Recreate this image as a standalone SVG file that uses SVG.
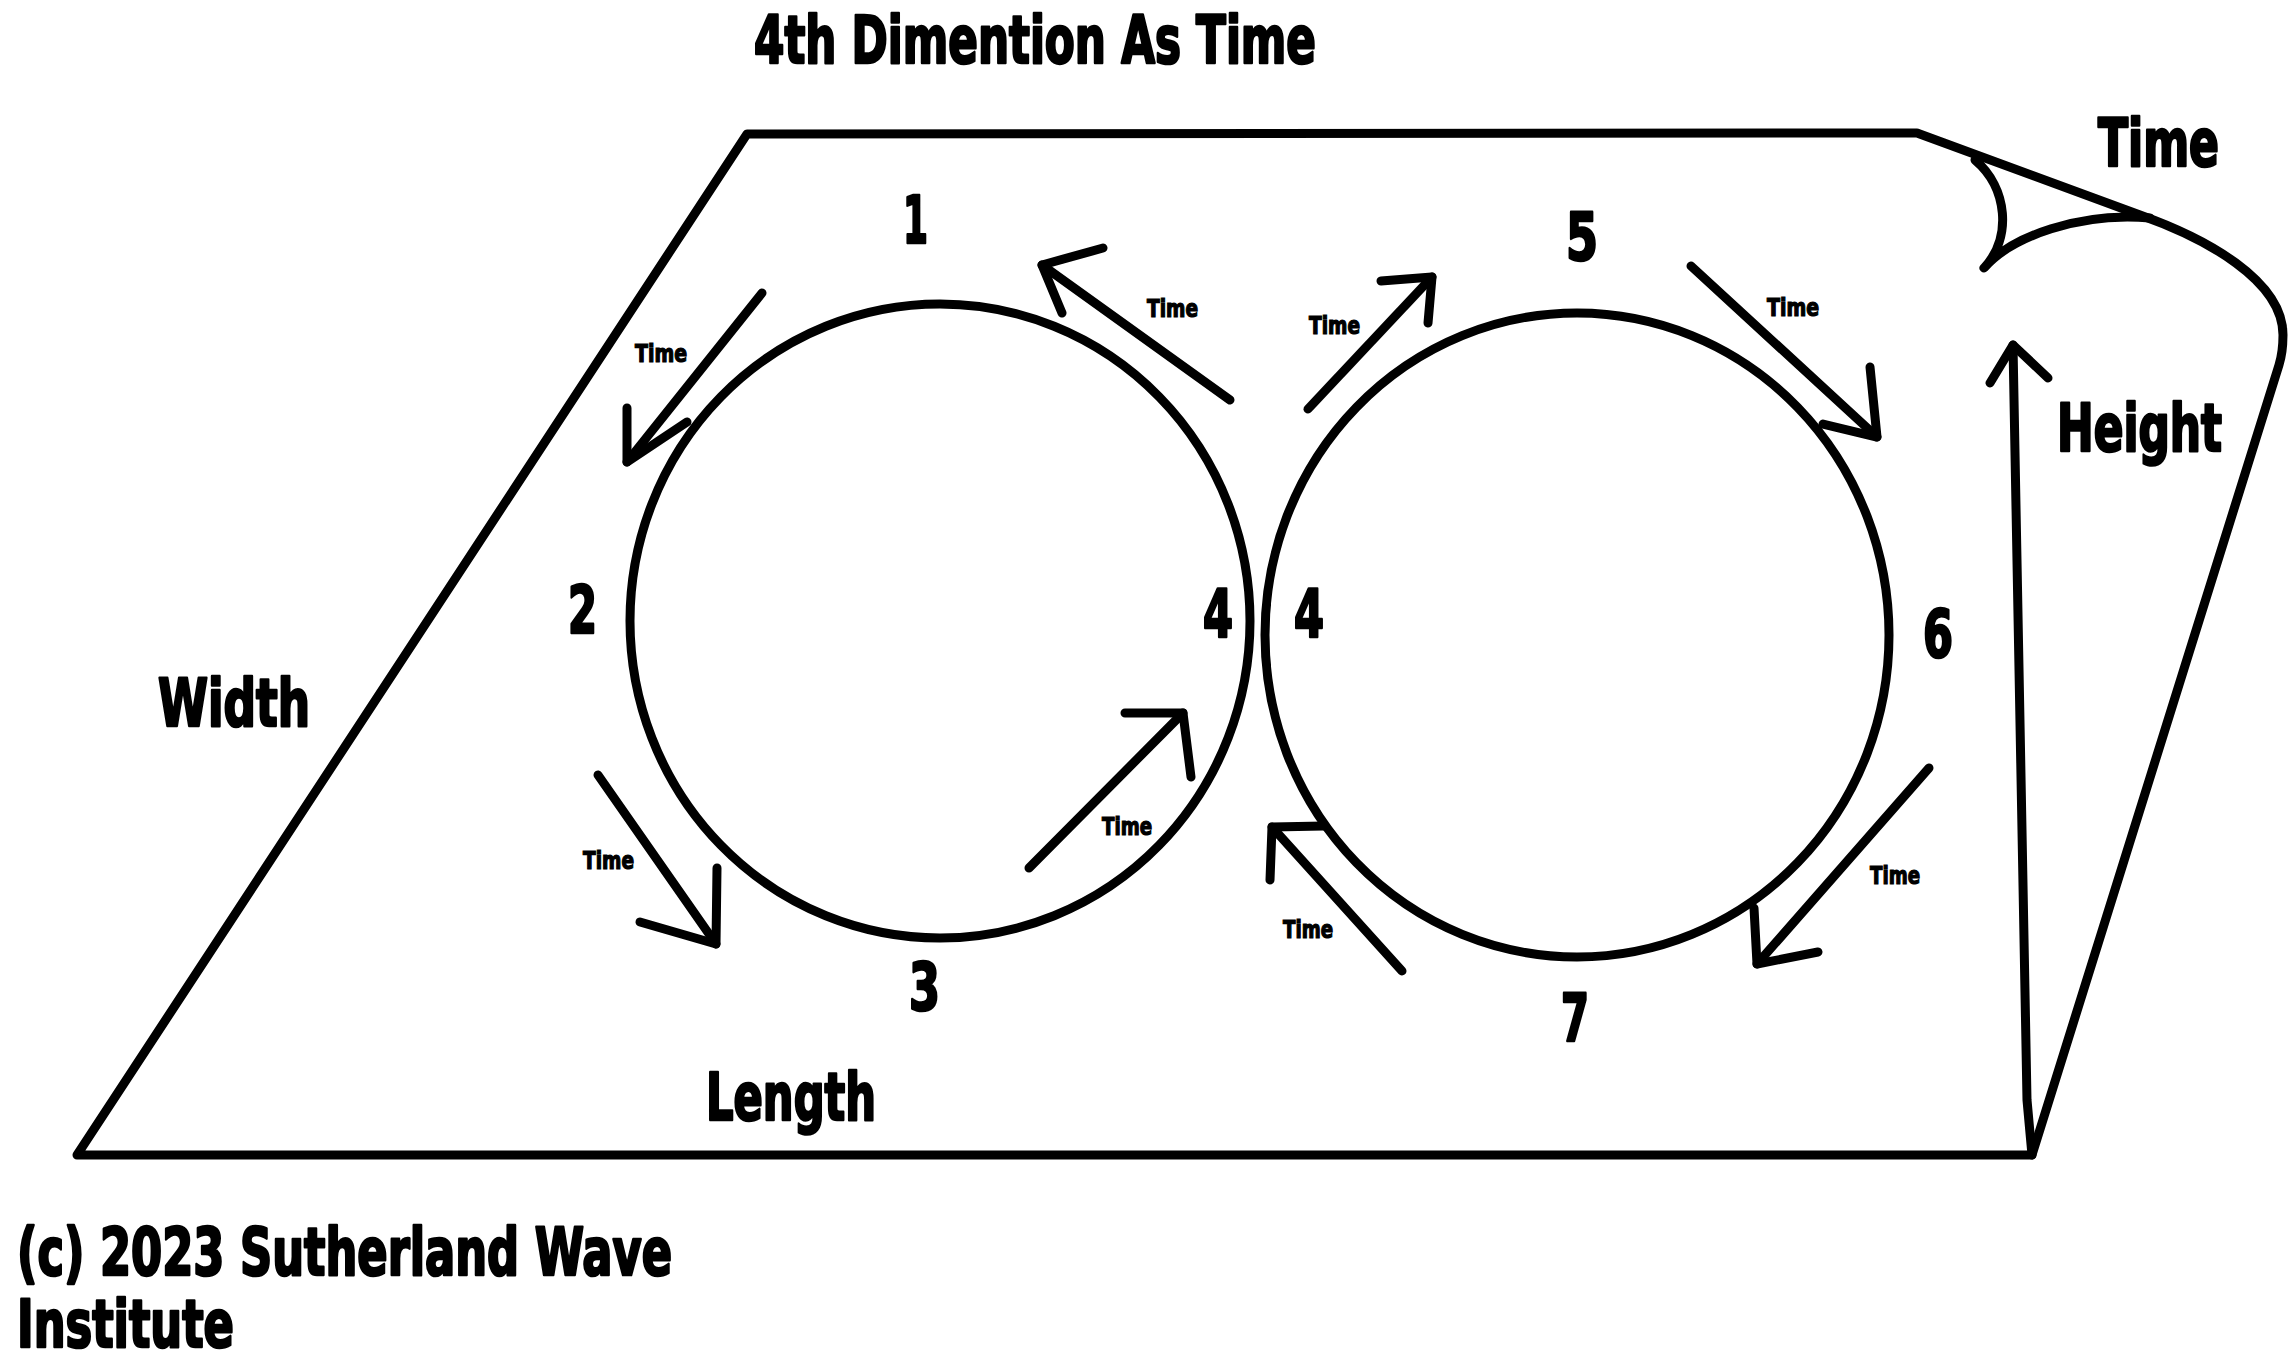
<svg xmlns="http://www.w3.org/2000/svg" width="2296" height="1368" viewBox="0 0 2296 1368">
  <style>
    .ln { fill: none; stroke: #000; stroke-width: 9; stroke-linecap: round; stroke-linejoin: round; }
    .ring { fill: none; stroke: #000; stroke-width: 9; }
    .big { font-family: "Liberation Sans Narrow", "DejaVu Sans Condensed", "Liberation Sans", sans-serif; font-weight: bold; font-size: 66px; fill: #000; stroke: #000; stroke-width: 2.6; stroke-linejoin: round; }
    .num { font-family: "Liberation Sans Narrow", "DejaVu Sans Condensed", "Liberation Sans", sans-serif; font-weight: bold; font-size: 66px; fill: #000; stroke: #000; stroke-width: 2.6; stroke-linejoin: round; }
    .tm { font-family: "Liberation Sans Narrow", "DejaVu Sans Condensed", "Liberation Sans", sans-serif; font-weight: bold; font-size: 24px; fill: #000; stroke: #000; stroke-width: 1.2; }
  </style>
  <rect x="0" y="0" width="2296" height="1368" fill="#ffffff"/>

  <g id="plane">
    <path class="ln" d="M747,134 L1917,133 L2140,215 C2205,238 2283,280 2283,335 Q2283,352 2279,365 L2032,1155 L77,1155 Z"/>
    <path id="curl" class="ln" d="M1975,160 C2008,188 2012,238 1984,268 C2012,236 2080,212 2150,218"/>
  </g>

  <g id="circle-left">
    <ellipse class="ring" cx="940" cy="621" rx="310" ry="317"/>
  </g>
  <g id="circle-right">
    <ellipse class="ring" cx="1577" cy="635" rx="312" ry="322"/>
  </g>

  <g id="connectors">
    <g id="arrow-height">
      <polyline class="ln" points="2032,1155 2027,1100 2013,345"/>
      <polyline class="ln" points="1990,383 2013,345 2048,378"/>
    </g>
    <g id="arrow-a">
      <line class="ln" x1="762" y1="293" x2="627" y2="462"/>
      <polyline class="ln" points="627,408 627,462 687,422"/>
    </g>
    <g id="arrow-b">
      <line class="ln" x1="1230" y1="400" x2="1042" y2="265"/>
      <polyline class="ln" points="1103,248 1042,265 1062,313"/>
    </g>
    <g id="arrow-c">
      <line class="ln" x1="598" y1="775" x2="716" y2="944"/>
      <polyline class="ln" points="717,868 716,944 640,922"/>
    </g>
    <g id="arrow-d">
      <line class="ln" x1="1029" y1="868" x2="1183" y2="713"/>
      <polyline class="ln" points="1125,713 1183,713 1191,777"/>
    </g>
    <g id="arrow-e">
      <line class="ln" x1="1308" y1="409" x2="1432" y2="277"/>
      <polyline class="ln" points="1381,281 1432,277 1428,323"/>
    </g>
    <g id="arrow-f">
      <line class="ln" x1="1691" y1="266" x2="1877" y2="437"/>
      <polyline class="ln" points="1870,367 1877,437 1823,424"/>
    </g>
    <g id="arrow-g">
      <line class="ln" x1="1929" y1="768" x2="1757" y2="964"/>
      <polyline class="ln" points="1754,908 1757,964 1818,952"/>
    </g>
    <g id="arrow-h">
      <line class="ln" x1="1402" y1="971" x2="1272" y2="827"/>
      <polyline class="ln" points="1270,880 1272,827 1324,826"/>
    </g>
  </g>

  <g id="labels">
    <text class="big" x="754" y="63" textLength="562" lengthAdjust="spacingAndGlyphs">4th Dimention As Time</text>
    <text class="big" x="2098" y="166" textLength="121" lengthAdjust="spacingAndGlyphs">Time</text>
    <text class="big" x="2057" y="451" textLength="165" lengthAdjust="spacingAndGlyphs">Height</text>
    <text class="big" x="158" y="726" textLength="152" lengthAdjust="spacingAndGlyphs">Width</text>
    <text class="big" x="706" y="1120" textLength="170" lengthAdjust="spacingAndGlyphs">Length</text>
    <text class="big" x="17" y="1275" textLength="655" lengthAdjust="spacingAndGlyphs">(c) 2023 Sutherland Wave</text>
    <text class="big" x="17" y="1347" textLength="217" lengthAdjust="spacingAndGlyphs">Institute</text>

    <text class="num" x="903" y="243" textLength="25" lengthAdjust="spacingAndGlyphs">1</text>
    <text class="num" x="568" y="633" textLength="29" lengthAdjust="spacingAndGlyphs">2</text>
    <text class="num" x="909" y="1010" textLength="31" lengthAdjust="spacingAndGlyphs">3</text>
    <text class="num" x="1203" y="637" textLength="30" lengthAdjust="spacingAndGlyphs">4</text>
    <text class="num" x="1294" y="637" textLength="30" lengthAdjust="spacingAndGlyphs">4</text>
    <text class="num" x="1566" y="260" textLength="32" lengthAdjust="spacingAndGlyphs">5</text>
    <text class="num" x="1923" y="657" textLength="30" lengthAdjust="spacingAndGlyphs">6</text>
    <text class="num" x="1561" y="1041" textLength="28" lengthAdjust="spacingAndGlyphs">7</text>

    <text class="tm" x="635" y="362" textLength="52" lengthAdjust="spacingAndGlyphs">Time</text>
    <text class="tm" x="1147" y="317" textLength="51" lengthAdjust="spacingAndGlyphs">Time</text>
    <text class="tm" x="583" y="869" textLength="51" lengthAdjust="spacingAndGlyphs">Time</text>
    <text class="tm" x="1102" y="835" textLength="50" lengthAdjust="spacingAndGlyphs">Time</text>
    <text class="tm" x="1309" y="334" textLength="51" lengthAdjust="spacingAndGlyphs">Time</text>
    <text class="tm" x="1767" y="316" textLength="52" lengthAdjust="spacingAndGlyphs">Time</text>
    <text class="tm" x="1870" y="884" textLength="50" lengthAdjust="spacingAndGlyphs">Time</text>
    <text class="tm" x="1283" y="938" textLength="50" lengthAdjust="spacingAndGlyphs">Time</text>
  </g>
</svg>
